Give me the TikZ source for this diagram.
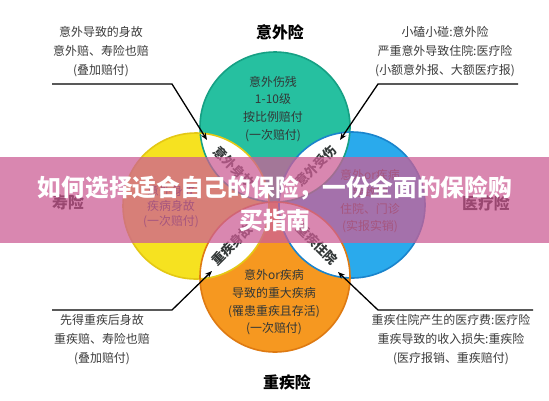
\documentclass[tikz,border=0pt]{standalone}
\usepackage{fontspec}
\setmainfont{Noto Sans CJK SC}
\usetikzlibrary{arrows.meta}
\definecolor{cteal}{RGB}{38,192,160}
\definecolor{cteald}{RGB}{22,160,132}
\definecolor{cyel}{RGB}{246,226,32}
\definecolor{cyeld}{RGB}{228,200,20}
\definecolor{cblue}{RGB}{42,170,236}
\definecolor{cblued}{RGB}{26,132,204}
\definecolor{corg}{RGB}{246,152,32}
\definecolor{corgd}{RGB}{222,122,18}
\definecolor{annogray}{RGB}{60,60,60}
\definecolor{circtext}{RGB}{50,55,55}
\definecolor{bannerpink}{RGB}{205,95,150}
\begin{document}
\begin{tikzpicture}[x=1bp,y=-1bp,
  anno/.style={font=\fontsize{12}{19}\selectfont, text=annogray, align=center, inner sep=0pt},
  circtxt/.style={font=\fontsize{12}{18}\selectfont, text=circtext, align=center, inner sep=0pt},
  ttl/.style={font=\fontsize{16}{20}\selectfont\bfseries, text=black, inner sep=0pt},
  lenstxt/.style={font=\fontsize{13}{15}\selectfont\bfseries, text=circtext, inner sep=0pt},
  pointer/.style={draw=black, line width=1.3bp, -{Stealth[length=7bp,width=5.5bp]}},
  btitle/.style={font=\fontsize{23.8}{33}\selectfont\bfseries, text=white, align=center, inner sep=0pt}]
\useasboundingbox (0,0) rectangle (549,400);
\fill[white] (0,0) rectangle (549,400);
% circle centres
\coordinate (cT) at (275,127);
\coordinate (cO) at (275,277);
\coordinate (cL) at (196,206);
\coordinate (cR) at (352,205);
% fills
\fill[cteal] (cT) circle (75);
\fill[cyel] (cL) circle (73);
\fill[cblue] (cR) circle (73);
\fill[corg] (cO) circle (75);
% white lenses
\begin{scope}
  \clip (cT) circle (75);
  \fill[white] (cL) circle (73);
  \fill[white] (cR) circle (73);
\end{scope}
\begin{scope}
  \clip (cO) circle (75);
  \fill[white] (cL) circle (73);
  \fill[white] (cR) circle (73);
\end{scope}
% outlines
\draw[cteald, line width=1.6bp] (cT) circle (75);
\draw[cyeld, line width=1.6bp] (cL) circle (73);
\draw[cblued, line width=1.6bp] (cR) circle (73);
\draw[corgd, line width=1.6bp] (cO) circle (75);
% titles
\node[ttl] (tT) at (280,32) {意外险};
\node[ttl] (tO) at (287,382) {重疾险};
\node[ttl] (tL) at (68,202) {寿险};
\node[ttl] (tR) at (486,203) {医疗险};
% circle texts
\node[circtxt] (bT) at (273,109) {意外伤残\\1-10级\\按比例赔付\\(一次赔付)};
\node[circtxt, font=\fontsize{12}{15}\selectfont] (bL) at (171,207) {意外身故\\疾病身故\\(一次赔付)};
\node[circtxt, font=\fontsize{12}{17.3}\selectfont] (bR) at (370,201) {意外or疾病\\导致的\\住院、门诊\\(实报实销)};
\node[circtxt, font=\fontsize{12}{17.7}\selectfont] (bO) at (274,302.5) {意外or疾病\\导致的重大疾病\\(罹患重疾且存活)\\(一次赔付)};
% lens texts
\node[lenstxt, rotate=-45] (lTL) at (234,167) {意外身故};
\node[lenstxt, rotate=45] (lTR) at (316,166) {意外受伤};
\node[lenstxt, rotate=45] (lBL) at (232,245) {重疾身故};
\node[lenstxt, rotate=-45] (lBR) at (317,244) {重疾住院};
% annotations
\node[anno] (atl) at (101,52) {意外导致的身故\\意外赔、寿险也赔\\(叠加赔付)};
\node[anno] (atr) at (445,52) {小磕小碰:意外险\\严重意外导致住院:医疗险\\(小额意外报、大额医疗报)};
\node[anno] (abl) at (102,340) {先得重疾后身故\\重疾赔、寿险也赔\\(叠加赔付)};
\node[anno] (abr) at (451,340) {重疾住院产生的医疗费:医疗险\\重疾导致的收入损失:重疾险\\(医疗报销、重疾赔付)};
% pointers
\coordinate (ptlA) at (52,84);
\coordinate (ptlB) at (172,84);
\coordinate (ptlC) at (207,140);
\coordinate (ptrA) at (518,84);
\coordinate (ptrB) at (378,84);
\coordinate (ptrC) at (340,140);
\coordinate (pblA) at (52,310);
\coordinate (pblB) at (172,310);
\coordinate (pblC) at (212,271);
\coordinate (pbrA) at (533,310);
\coordinate (pbrB) at (378,310);
\coordinate (pbrC) at (338,272);
\draw[pointer] (ptlA) -- (ptlB) -- (ptlC);
\draw[pointer] (ptrA) -- (ptrB) -- (ptrC);
\draw[pointer] (pblA) -- (pblB) -- (pblC);
\draw[pointer] (pbrA) -- (pbrB) -- (pbrC);
% banner
\fill[bannerpink, opacity=0.75] (0,157) rectangle (549,243);
\node[btitle] (banner) at (275,203.5) {如何选择适合自己的保险，一份全面的保险购\\买指南};
\end{tikzpicture}
\end{document}
